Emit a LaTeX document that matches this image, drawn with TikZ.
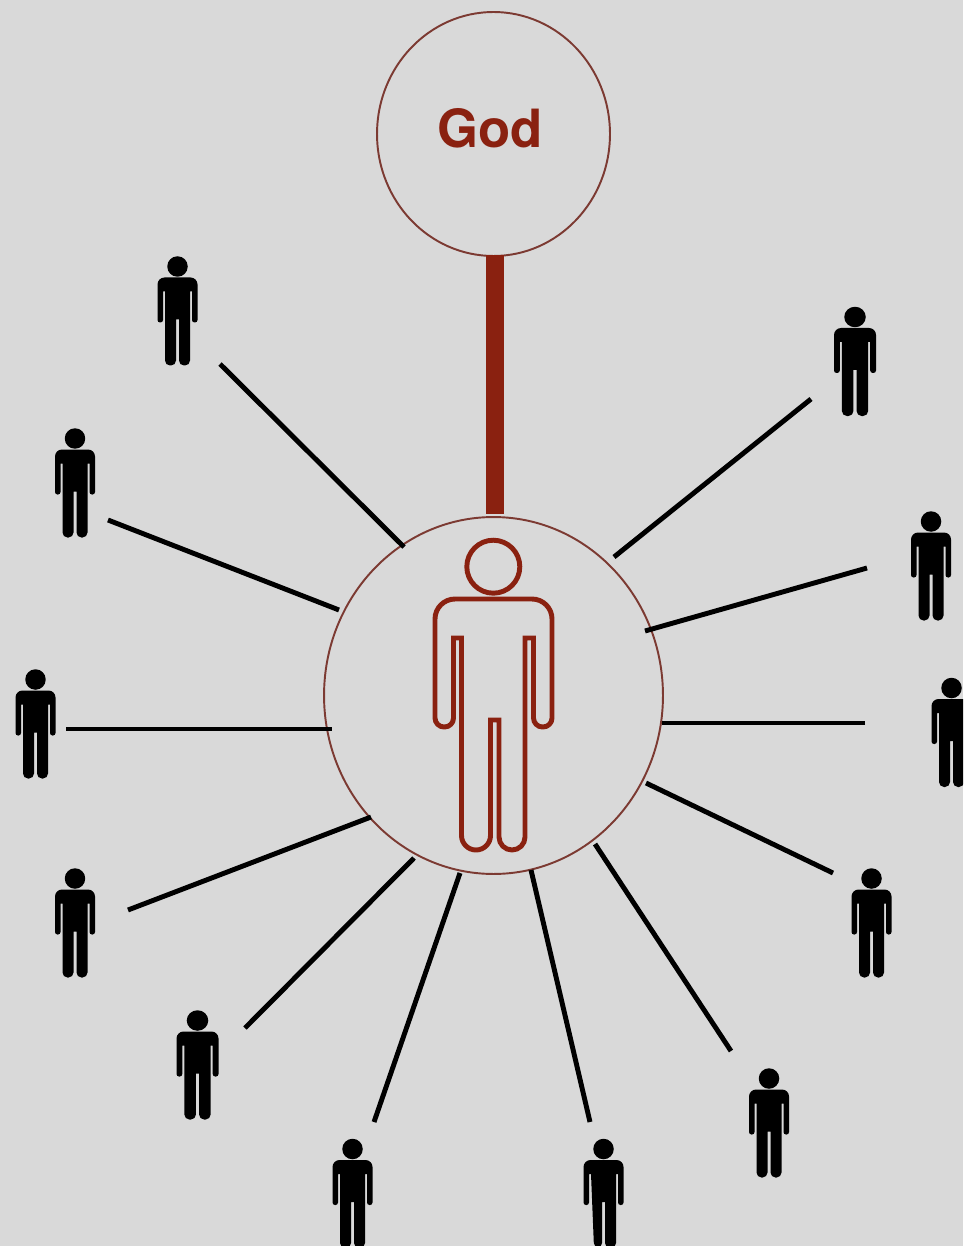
\documentclass[tikz,border=0pt]{standalone}
\usepackage{fontspec}
\setmainfont{TeX Gyre Heros}
\usetikzlibrary{shapes.geometric}
\definecolor{godred}{HTML}{8A2110}
\definecolor{ringred}{HTML}{7C3A32}
\definecolor{backgray}{HTML}{D9D9D9}
\tikzset{
  ring/.style={ellipse,draw=ringred,line width=1.1pt,inner sep=0pt},
  spoke/.style={line width=2.8pt,black},
  pics/person/.style={code={
    \fill (0,0) circle[radius=0.205cm];
    \fill (0,11) [rounded corners=0.14cm] -- (20,11) [rounded corners=0.05cm] -- (20,56) -- (14.5,56)
      [sharp corners] -- (14.5,25) -- (12.5,25) [rounded corners=0.1cm] -- (12.5,99) -- (1.5,99)
      [sharp corners] -- (1.5,53) -- (-1.5,53) [rounded corners=0.1cm] -- (-1.5,99) -- (\lx,99)
      [sharp corners] -- (-12.5,25) -- (-14.5,25) [rounded corners=0.05cm] -- (-14.5,56) -- (-20,56)
      [rounded corners=0.14cm] -- (-20,11) [sharp corners] -- cycle;
  }}
}
\begin{document}
\begin{tikzpicture}[x=0.02cm,y=-0.02cm]
  \useasboundingbox (0,0) rectangle (963,1246);
  \fill[backgray] (0,0) rectangle (963,1246);
  \clip (0,0) rectangle (963,1246);
  % Circles
  \node[ring,minimum width=4.66cm,minimum height=4.88cm] (god) at (493.5,134) {};
  \node[ring,minimum width=6.78cm,minimum height=7.14cm] (self) at (493.5,695.5) {};
  \node[text=godred,font=\bfseries\fontsize{30}{31}\selectfont] (godlabel) at (490,128) {God};
  \draw[godred,line width=10.2pt,shorten <=-1pt,shorten >=1pt] ([xshift=0.03cm]god.south) -- ([xshift=0.03cm]self.north);
  % Central figure
  \draw[godred,line width=2.8pt] (493.3,566.7) circle[radius=0.53cm];
  \draw[godred,line width=2.8pt] (493.5,599) [rounded corners=0.4cm] -- (552,599) [rounded corners=0.18cm] -- (552,727) -- (533.5,727)
    [sharp corners] -- (533.5,638) -- (525,638) [rounded corners=0.26cm] -- (525,850) -- (499,850)
    [sharp corners] -- (499,720) -- (490.5,720) [rounded corners=0.29cm] -- (490.5,850) -- (461.5,850)
    [sharp corners] -- (461.5,638) -- (453.5,638) [rounded corners=0.18cm] -- (453.5,727) -- (435,727)
    [rounded corners=0.4cm] -- (435,599) [sharp corners] -- cycle;
  % People
  \foreach \hx/\hy/\sx/\lx in {177.5/266.5/1/-12.5,75/438.5/1/-12.5,35.5/679.5/1/-12.5,75/878.5/1/-12.5,
      197.5/1020.5/1.05/-12.5,352.5/1149/1/-12.5,603.5/1149/1/-9.5,769/1078.5/1/-12.5,871.5/878.5/1/-12.5,
      951.5/688/1/-12.5,931/521.5/1/-12.5,855/317/1.05/-12.5}
    \pic[xscale=\sx] at (\hx,\hy) {person};
  % Spokes
  \foreach \ax/\ay/\bx/\by [count=\i] in {220/364/404/547,108/520/339/610,66/729/332/729,
      128/910/371/817,245/1028/414/858,374/1122/460/873,590/1122/531/870,731/1051/595/844,
      833/873/646/783,865/723/662/723,867/568/645/631,811/399/614/557}{
    \coordinate (out\i) at (\ax,\ay);
    \coordinate (in\i) at (\bx,\by);
    \draw[spoke] (out\i) -- (in\i);
  }
\end{tikzpicture}
\end{document}
